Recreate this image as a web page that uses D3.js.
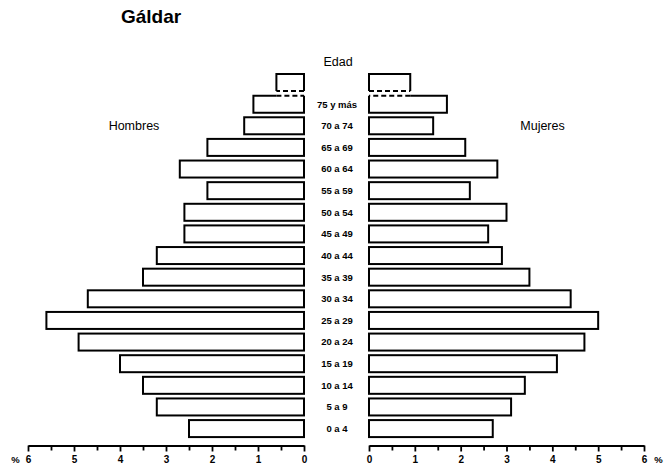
<!DOCTYPE html>
<html>
<head>
<meta charset="utf-8">
<script src="https://cdn.jsdelivr.net/npm/d3@7"></script>
<style>
  html, body { margin: 0; padding: 0; background: #fff; }
  svg { display: block; font-family: "Liberation Sans", Arial, sans-serif; }
</style>
</head>
<body>
<svg id="chart" width="664" height="470"></svg>
<script>
// Age groups, top to bottom. The first row has no label: it is the
// continuation of the open-ended "75 y más" group, drawn as a broken bar.
const ageGroups = ["", "75 y más", "70 a 74", "65 a 69", "60 a 64", "55 a 59",
  "50 a 54", "45 a 49", "40 a 44", "35 a 39", "30 a 34", "25 a 29",
  "20 a 24", "15 a 19", "10 a 14", "5 a 9", "0 a 4"];

// Share of the total population (%)
const men   = [0.6, 1.1, 1.3, 2.1, 2.7, 2.1, 2.6, 2.6, 3.2, 3.5, 4.7, 5.6, 4.9, 4.0, 3.5, 3.2, 2.5];
const women = [0.9, 1.7, 1.4, 2.1, 2.8, 2.2, 3.0, 2.6, 2.9, 3.5, 4.4, 5.0, 4.7, 4.1, 3.4, 3.1, 2.7];

const majorTicks = [0, 1, 2, 3, 4, 5, 6];
const minorTicks = [0.5, 1.5, 2.5, 3.5, 4.5, 5.5];

const svg = d3.select("#chart");

const xL = d3.scaleLinear().domain([0, 6]).range([304, 28]);
const xR = d3.scaleLinear().domain([0, 6]).range([369, 644]);
const y = d3.scaleBand()
  .domain(d3.range(ageGroups.length))
  .range([71.7, 439.4])
  .paddingInner(0.214)
  .paddingOuter(0.107);

const bh = y.bandwidth();
const line = d3.line();

// Title and headings
svg.append("text").attr("x", 121).attr("y", 22.5)
  .attr("font-size", 19).attr("font-weight", "bold").text("Gáldar");
svg.append("text").attr("x", 338).attr("y", 65.5).attr("text-anchor", "middle")
  .attr("font-size", 12.5).text("Edad");
svg.append("text").attr("x", 134).attr("y", 129.5).attr("text-anchor", "middle")
  .attr("font-size", 12.5).text("Hombres");
svg.append("text").attr("x", 542.5).attr("y", 129.5).attr("text-anchor", "middle")
  .attr("font-size", 12.5).text("Mujeres");

const bars = svg.append("g")
  .attr("fill", "#fff").attr("stroke", "#000").attr("stroke-width", 2);

// Draw one side of the pyramid
function drawSide(values, x) {
  const x0 = x(0);
  values.forEach((v, i) => {
    const xv = x(v);
    const top = y(i), bot = y(i) + bh;
    if (i === 0) {
      // upper part of the broken bar: three solid sides, dashed bottom
      bars.append("rect").attr("x", Math.min(xv, x0)).attr("y", top)
        .attr("width", Math.abs(x0 - xv)).attr("height", bh).attr("stroke", "none");
      bars.append("path").attr("fill", "none")
        .attr("d", line([[x0, bot], [x0, top], [xv, top], [xv, bot]]));
      bars.append("path").attr("fill", "none").attr("stroke-dasharray", "5,3")
        .attr("d", line([[x0, bot], [xv, bot]]));
    } else if (i === 1) {
      // lower part of the broken bar: top edge dashed under the upper part
      const xb = x(values[0]);
      bars.append("rect").attr("x", Math.min(xv, x0)).attr("y", top)
        .attr("width", Math.abs(x0 - xv)).attr("height", bh).attr("stroke", "none");
      bars.append("path").attr("fill", "none")
        .attr("d", line([[x0, top], [x0, bot], [xv, bot], [xv, top], [xb, top]]));
      bars.append("path").attr("fill", "none").attr("stroke-dasharray", "5,3")
        .attr("d", line([[xb, top], [x0, top]]));
    } else {
      bars.append("rect").attr("x", Math.min(xv, x0)).attr("y", top)
        .attr("width", Math.abs(x0 - xv)).attr("height", bh);
    }
  });
}
drawSide(men, xL);
drawSide(women, xR);

// Age labels in the centre
svg.append("g").selectAll("text")
  .data(ageGroups)
  .join("text")
  .attr("x", 337)
  .attr("y", (d, i) => y(i) + bh / 2 + 3.4)
  .attr("text-anchor", "middle")
  .attr("font-size", 9.5)
  .attr("font-weight", "bold")
  .text(d => d);

// Axes
const axisY = 445.5;
function drawAxis(x) {
  const g = svg.append("g").attr("transform", `translate(0,${axisY})`);
  g.call(d3.axisBottom(x).tickValues(majorTicks).tickSize(6).tickSizeOuter(0)
    .tickFormat(d3.format("d")));
  g.append("g").call(d3.axisBottom(x).tickValues(minorTicks).tickSize(5)
    .tickSizeOuter(0).tickFormat(""))
    .select(".domain").remove();
  g.selectAll(".domain").attr("stroke-width", 2.2).attr("stroke", "#000");
  g.selectAll(".tick line").attr("stroke-width", 1.8).attr("stroke", "#000");
  g.selectAll(".tick text").attr("fill", "#000").attr("font-size", 10)
    .attr("font-weight", "bold").attr("font-family", "Liberation Sans, Arial, sans-serif")
    .attr("dy", null).attr("y", 17.5);
}
drawAxis(xL);
drawAxis(xR);

svg.append("text").attr("x", 15.5).attr("y", axisY + 17.5).attr("text-anchor", "middle")
  .attr("font-size", 9.5).attr("font-weight", "bold").text("%");
svg.append("text").attr("x", 658.5).attr("y", axisY + 17.5).attr("text-anchor", "middle")
  .attr("font-size", 9.5).attr("font-weight", "bold").text("%");
</script>
</body>
</html>
